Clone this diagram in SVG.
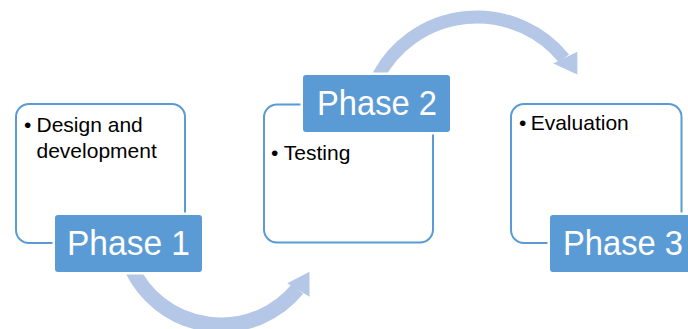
<svg xmlns="http://www.w3.org/2000/svg" width="688" height="329" viewBox="0 0 688 329">
<style>
.box{fill:#fff;stroke:#5B9BD5;stroke-width:2}
.lbl{fill:#5B9BD5;stroke:#fff;stroke-width:5;paint-order:stroke}
.lt{font-family:"Liberation Sans",Arial,sans-serif;font-size:35px;fill:#fff;text-anchor:middle}
.bt{font-family:"Liberation Sans",Arial,sans-serif;font-size:21px;fill:#000}
.arc{fill:none;stroke:#B4C7E7}
.head{fill:#B4C7E7}
</style>
<rect width="688" height="329" fill="#fff"/>
<g id="connectors">
  <path class="arc" stroke-width="15" d="M131.3,267.9 A99,99 0 0 0 297.4,289.0"/>
  <polygon class="head" points="287.3,283.3 309.5,271.7 309.5,296.7"/>
  <path class="arc" stroke-width="13" d="M378.1,76.4 A112,112 0 0 1 564.0,58.5"/>
  <polygon class="head" points="553.3,63.5 577.3,51.7 577.3,74.5"/>
</g>
<g id="phase1">
  <rect class="box" x="16" y="104" width="169" height="139" rx="13"/>
  <rect class="lbl" x="55" y="215" width="147" height="57" rx="3"/>
  <text class="lt" x="128.5" y="255" textLength="123" lengthAdjust="spacingAndGlyphs">Phase 1</text>
  <text class="bt" x="24" y="131.5">•</text>
  <text class="bt" x="36.5" y="131.5">Design and</text>
  <text class="bt" x="36.5" y="157.5">development</text>
</g>
<g id="phase2">
  <rect class="box" x="264" y="104.5" width="169" height="138" rx="13"/>
  <rect class="lbl" x="303" y="75" width="147" height="57" rx="3"/>
  <text class="lt" x="377" y="115" textLength="120" lengthAdjust="spacingAndGlyphs">Phase 2</text>
  <text class="bt" x="271" y="160">•</text>
  <text class="bt" x="283.8" y="160">Testing</text>
</g>
<g id="phase3">
  <rect class="box" x="511" y="104" width="170.5" height="139" rx="13"/>
  <rect class="lbl" x="550" y="215" width="147" height="57" rx="3"/>
  <text class="lt" x="623" y="255" textLength="120" lengthAdjust="spacingAndGlyphs">Phase 3</text>
  <text class="bt" x="519" y="130">•</text>
  <text class="bt" x="530.7" y="130">Evaluation</text>
</g>
</svg>
